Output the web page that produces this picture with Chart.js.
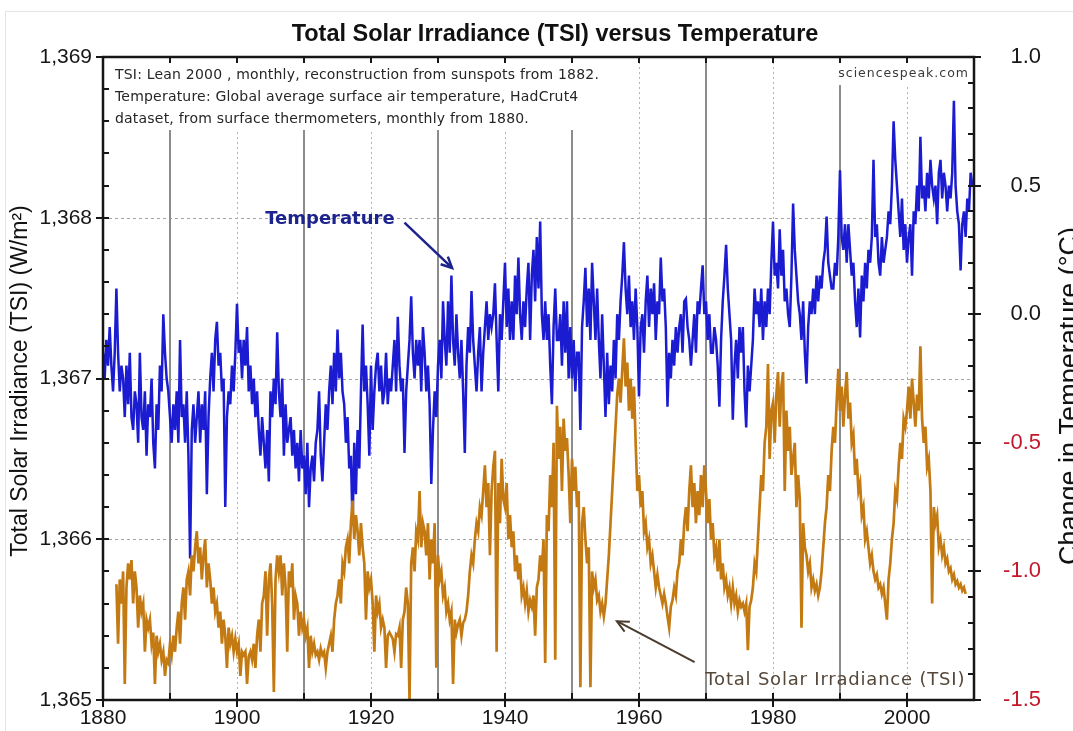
<!DOCTYPE html>
<html>
<head>
<meta charset="utf-8">
<script src="https://cdn.jsdelivr.net/npm/chart.js@4.4.1/dist/chart.umd.min.js"></script>
<style>
  html, body { margin: 0; background: #fff; }
  #wrap { width: 1073px; height: 731px; position: relative; }
</style>
</head>
<body>
<div id="wrap"><canvas id="tsi-chart"></canvas></div>
<script>
/* TSI vs temperature: two line series on twin y axes, gridlines / ticks / notes drawn by small plugins */

const X_TICKS = [1880, 1900, 1920, 1940, 1960, 1980, 2000];
const TSI_TICKS = [1365, 1366, 1367, 1368, 1369];
const TEMP_TICKS = [-1.5, -1.0, -0.5, 0.0, 0.5, 1.0];

const TEMP_START = 1880; // HadCrut4, 4 samples per year
const TSI_START = 1882;  // Lean 2000 reconstruction, 4 samples per year
const PER_YEAR = 4;

// °C anomaly, one row per year
const tempValues = [
  -0.15, -0.25, -0.10, -0.20,
  -0.05, -0.20, -0.30, -0.15,
  0.10, -0.15, -0.30, -0.20,
  -0.25, -0.40, -0.20, -0.35,
  -0.15, -0.40, -0.45, -0.30,
  -0.35, -0.50, -0.15, -0.40,
  -0.45, -0.30, -0.55, -0.35,
  -0.40, -0.25, -0.50, -0.60,
  -0.35, -0.45, -0.20, -0.30,
  0.00, -0.15, -0.25, -0.30,
  -0.40, -0.50, -0.35, -0.45, // 1890
  -0.30, -0.50, -0.10, -0.40,
  -0.35, -0.50, -0.30, -0.55,
  -0.95, -0.45, -0.35, -0.50,
  -0.40, -0.30, -0.50, -0.35,
  -0.45, -0.30, -0.70, -0.40,
  -0.25, -0.15, -0.30, -0.10,
  -0.03, -0.20, -0.15, -0.30,
  -0.25, -0.75, -0.40, -0.30,
  -0.35, -0.20, -0.30, -0.15,
  0.04, -0.15, -0.10, -0.25, // 1900
  -0.10, -0.20, -0.05, -0.30,
  -0.20, -0.35, -0.25, -0.40,
  -0.30, -0.45, -0.55, -0.40,
  -0.50, -0.60, -0.45, -0.65,
  -0.30, -0.40, -0.25, -0.35,
  -0.07, -0.30, -0.40, -0.25,
  -0.55, -0.35, -0.50, -0.45,
  -0.40, -0.55, -0.45, -0.60,
  -0.50, -0.65, -0.45, -0.60,
  -0.55, -0.70, -0.50, -0.75, // 1910
  -0.60, -0.55, -0.65, -0.50,
  -0.45, -0.30, -0.55, -0.65,
  -0.50, -0.35, -0.45, -0.30,
  -0.20, -0.35, -0.15, -0.30,
  -0.06, -0.25, -0.15, -0.30,
  -0.35, -0.50, -0.40, -0.60,
  -0.55, -0.82, -0.50, -0.70,
  -0.45, -0.60, -0.30, -0.04,
  -0.30, -0.20, -0.35, -0.55,
  -0.20, -0.45, -0.30, -0.20, // 1920
  -0.15, -0.30, -0.20, -0.35,
  -0.30, -0.15, -0.35, -0.25,
  -0.30, -0.20, -0.10, -0.30,
  -0.01, -0.20, -0.30, -0.25,
  -0.54, -0.30, -0.20, -0.10,
  0.07, -0.15, -0.25, -0.10,
  -0.20, -0.10, -0.30, -0.05,
  -0.15, -0.30, -0.20, -0.35,
  -0.66, -0.45, -0.30, -0.40,
  -0.20, -0.10, -0.25, 0.05, // 1930
  -0.10, -0.20, 0.05, -0.15,
  0.15, -0.10, -0.20, 0.00,
  -0.15, -0.25, -0.10, -0.30,
  -0.54, -0.20, -0.05, -0.15,
  0.09, -0.10, -0.20, -0.30,
  -0.15, -0.05, -0.30, -0.15,
  -0.05, 0.05, -0.10, 0.00,
  -0.05, 0.00, 0.12, -0.10,
  -0.30, 0.00, -0.10, 0.05,
  0.20, -0.05, 0.10, -0.10, // 1940
  0.05, -0.10, 0.15, 0.00,
  0.22, 0.00, -0.10, 0.05,
  -0.05, 0.10, 0.20, -0.10,
  0.15, 0.25, 0.05, 0.30,
  0.10, 0.36, 0.00, -0.10,
  0.05, -0.10, 0.00, -0.20,
  -0.35, -0.05, 0.10, -0.10,
  -0.10, 0.00, -0.20, 0.05,
  -0.15, 0.05, -0.25, -0.05,
  -0.25, -0.10, -0.30, -0.15, // 1950
  -0.15, -0.45, -0.05, 0.05,
  0.18, -0.05, 0.10, -0.10,
  0.20, 0.05, -0.10, 0.10,
  -0.10, -0.25, 0.00, -0.20,
  -0.40, -0.15, -0.35, -0.20,
  -0.30, -0.10, -0.25, 0.00,
  -0.10, 0.05, 0.15, 0.28,
  0.10, 0.00, 0.15, -0.05,
  0.05, -0.10, 0.10, -0.05,
  -0.32, -0.05, 0.00, -0.15, // 1960
  0.05, 0.15, -0.05, 0.10,
  0.00, 0.12, -0.10, 0.05,
  0.00, 0.22, 0.05, 0.10,
  -0.05, -0.36, -0.15, -0.25,
  -0.10, -0.20, -0.05, -0.15,
  -0.05, 0.00, -0.15, 0.05,
  0.06, -0.05, -0.10, -0.20,
  -0.10, 0.00, -0.15, 0.05,
  0.00, 0.10, 0.19, 0.00,
  0.05, -0.10, 0.00, -0.15, // 1970
  -0.15, -0.05, -0.10, -0.20,
  -0.36, -0.10, 0.05, 0.15,
  0.27, 0.10, 0.00, -0.10,
  -0.41, -0.20, -0.10, -0.25,
  -0.05, -0.15, -0.05, -0.30,
  -0.44, -0.20, -0.30, -0.20,
  -0.10, 0.10, 0.00, 0.05,
  -0.05, 0.10, -0.10, 0.05,
  -0.05, 0.10, 0.00, 0.20,
  0.36, 0.15, 0.20, 0.10, // 1980
  0.33, 0.15, 0.25, 0.05,
  0.10, 0.00, -0.05, 0.15,
  0.43, 0.25, 0.15, 0.05,
  0.00, -0.10, 0.05, -0.15,
  -0.27, -0.05, 0.05, 0.00,
  0.10, 0.00, 0.15, 0.05,
  0.15, 0.10, 0.20, 0.25,
  0.38, 0.20, 0.15, 0.10,
  0.10, 0.20, 0.15, 0.30,
  0.56, 0.30, 0.25, 0.35, // 1990
  0.20, 0.35, 0.25, 0.15,
  0.20, 0.05, -0.05, 0.10,
  -0.09, 0.15, 0.05, 0.20,
  0.10, 0.25, 0.20, 0.30,
  0.60, 0.30, 0.35, 0.20,
  0.15, 0.30, 0.20, 0.25,
  0.30, 0.40, 0.35, 0.50,
  0.75, 0.60, 0.50, 0.40,
  0.30, 0.45, 0.25, 0.35,
  0.20, 0.30, 0.35, 0.15, // 2000
  0.40, 0.35, 0.50, 0.40,
  0.69, 0.45, 0.50, 0.40,
  0.55, 0.45, 0.60, 0.50,
  0.45, 0.50, 0.35, 0.55,
  0.60, 0.45, 0.55, 0.50,
  0.40, 0.50, 0.45, 0.55,
  0.83, 0.50, 0.40, 0.35,
  0.17, 0.35, 0.40, 0.30,
  0.45, 0.40, 0.55, 0.50,
  0.50,
];

// W/m², one row per year from 1882
const tsiValues = [
  1365.72, 1365.35, 1365.75, 1365.60,
  1365.80, 1365.10, 1365.70, 1365.85,
  1365.75, 1365.87, 1365.60, 1365.80,
  1365.70, 1365.45, 1365.65, 1365.55,
  1365.60, 1365.30, 1365.50, 1365.45,
  1365.50, 1365.35, 1365.42, 1365.10,
  1365.40, 1365.30, 1365.35, 1365.25,
  1365.30, 1365.15, 1365.25, 1365.23,
  1365.35, 1365.28, 1365.40, 1365.30, // 1890
  1365.45, 1365.55, 1365.35, 1365.60,
  1365.70, 1365.50, 1365.75, 1365.80,
  1365.65, 1365.90, 1365.80, 1365.95,
  1366.05, 1365.85, 1365.95, 1365.75,
  1365.90, 1366.00, 1365.70, 1365.85,
  1365.75, 1365.60, 1365.70, 1365.55,
  1365.60, 1365.45, 1365.55, 1365.35,
  1365.50, 1365.40, 1365.20, 1365.45,
  1365.35, 1365.40, 1365.30, 1365.38,
  1365.30, 1365.35, 1365.15, 1365.30, // 1900
  1365.28, 1365.30, 1365.10, 1365.27,
  1365.30, 1365.25, 1365.35, 1365.20,
  1365.40, 1365.50, 1365.30, 1365.60,
  1365.65, 1365.80, 1365.40, 1365.75,
  1365.85, 1365.60, 1365.05, 1365.75,
  1365.90, 1365.80, 1365.90, 1365.65,
  1365.85, 1365.70, 1365.30, 1365.80,
  1365.70, 1365.85, 1365.50, 1365.65,
  1365.60, 1365.40, 1365.55, 1365.45,
  1365.50, 1365.40, 1365.45, 1365.20, // 1910
  1365.40, 1365.30, 1365.35, 1365.28,
  1365.30, 1365.25, 1365.32, 1365.28,
  1365.30, 1365.20, 1365.30, 1365.35,
  1365.40, 1365.30, 1365.50, 1365.60,
  1365.65, 1365.75, 1365.60, 1365.85,
  1365.80, 1365.95, 1366.00, 1365.85,
  1366.10, 1366.24, 1366.00, 1366.15,
  1366.05, 1365.90, 1366.10, 1365.95,
  1365.85, 1365.50, 1365.80, 1365.70,
  1365.75, 1365.60, 1365.30, 1365.65, // 1920
  1365.55, 1365.60, 1365.45, 1365.50,
  1365.45, 1365.20, 1365.40, 1365.42,
  1365.40, 1365.38, 1365.30, 1365.41,
  1365.40, 1365.45, 1365.20, 1365.50,
  1365.55, 1365.70, 1365.60, 1365.00,
  1365.85, 1365.95, 1365.80, 1366.05,
  1366.00, 1366.30, 1365.95, 1366.10,
  1366.05, 1365.90, 1366.10, 1365.75,
  1366.00, 1365.85, 1366.10, 1365.20,
  1365.90, 1365.75, 1365.80, 1365.65, // 1930
  1365.70, 1365.55, 1365.60, 1365.50,
  1365.55, 1365.10, 1365.50, 1365.42,
  1365.47, 1365.50, 1365.40, 1365.48,
  1365.50, 1365.55, 1365.65, 1365.80,
  1365.90, 1365.85, 1366.00, 1366.10,
  1366.05, 1366.20, 1366.15, 1366.30,
  1366.46, 1366.20, 1366.35, 1365.90,
  1366.30, 1366.45, 1366.55, 1365.30,
  1366.35, 1366.10, 1366.50, 1366.25,
  1366.20, 1366.35, 1366.00, 1366.15, // 1940
  1365.95, 1366.05, 1365.80, 1365.90,
  1365.75, 1365.85, 1365.65, 1365.70,
  1365.60, 1365.68, 1365.55, 1365.62,
  1365.58, 1365.65, 1365.40, 1365.70,
  1365.75, 1365.90, 1365.80, 1366.00,
  1365.23, 1366.15, 1366.05, 1366.40,
  1366.20, 1366.60, 1365.25, 1366.83,
  1366.50, 1366.70, 1366.30, 1366.75,
  1366.55, 1366.63, 1366.40, 1366.10,
  1366.50, 1366.30, 1366.45, 1366.20, // 1950
  1366.30, 1365.08, 1366.10, 1366.20,
  1366.00, 1365.85, 1365.95, 1365.08,
  1365.80, 1365.70, 1365.75, 1365.62,
  1365.65, 1365.55, 1365.60, 1365.52,
  1365.60, 1365.75, 1365.90, 1366.10,
  1366.30, 1366.50, 1366.70, 1366.90,
  1367.00, 1366.85, 1367.05, 1367.25,
  1366.95, 1367.10, 1366.80, 1367.00,
  1366.75, 1366.95, 1366.60, 1366.30,
  1366.40, 1366.20, 1366.30, 1366.05, // 1960
  1366.10, 1365.95, 1366.00, 1365.85,
  1365.90, 1365.80, 1365.70, 1365.78,
  1365.70, 1365.65, 1365.60, 1365.66,
  1365.60, 1365.52, 1365.45, 1365.58,
  1365.62, 1365.70, 1365.65, 1365.80,
  1365.85, 1366.00, 1365.90, 1366.10,
  1366.20, 1366.05, 1366.30, 1366.46,
  1366.20, 1366.35, 1366.10, 1366.30,
  1366.15, 1366.40, 1366.20, 1366.46,
  1366.30, 1366.10, 1366.25, 1366.00, // 1970
  1366.10, 1365.90, 1365.95, 1365.80,
  1366.00, 1365.75, 1365.85, 1365.70,
  1365.75, 1365.65, 1365.70, 1365.60,
  1365.70, 1365.60, 1365.65, 1365.55,
  1365.62, 1365.58, 1365.60, 1365.55,
  1365.60, 1365.31, 1365.58, 1365.62,
  1365.70, 1365.85, 1365.80, 1366.00,
  1366.20, 1366.40, 1366.30, 1366.60,
  1366.70, 1367.09, 1366.50, 1366.80,
  1366.85, 1366.60, 1366.90, 1367.04, // 1980
  1366.70, 1366.95, 1367.04, 1366.30,
  1366.80, 1366.55, 1366.70, 1366.40,
  1366.50, 1366.60, 1366.20, 1366.40,
  1366.25, 1365.45, 1366.10, 1365.95,
  1365.90, 1365.80, 1365.85, 1365.70,
  1365.75, 1365.68, 1365.72, 1365.65,
  1365.70, 1365.80, 1365.95, 1366.10,
  1366.20, 1366.40, 1366.30, 1366.55,
  1366.70, 1366.60, 1366.85, 1367.06,
  1366.80, 1366.95, 1366.70, 1366.90, // 1990
  1367.04, 1366.75, 1366.85, 1366.60,
  1366.65, 1366.40, 1366.50, 1366.30,
  1366.35, 1366.15, 1366.20, 1366.00,
  1366.05, 1365.95, 1365.85, 1365.90,
  1365.80, 1365.75, 1365.78, 1365.70,
  1365.72, 1365.66, 1365.70, 1365.60,
  1365.50, 1365.75, 1365.85, 1366.00,
  1366.10, 1366.30, 1366.25, 1366.45,
  1366.60, 1366.50, 1366.75, 1366.70,
  1366.80, 1366.95, 1366.75, 1367.00, // 2000
  1366.85, 1366.70, 1366.90, 1366.80,
  1367.20, 1366.75, 1366.60, 1366.70,
  1366.45, 1366.50, 1366.30, 1365.60,
  1366.20, 1366.10, 1366.15, 1365.95,
  1366.00, 1365.90, 1365.95, 1365.85,
  1365.88, 1365.80, 1365.82, 1365.75,
  1365.78, 1365.72, 1365.74, 1365.70,
  1365.72, 1365.68, 1365.70, 1365.66,
];

const NOTE_LINES = [
  "TSI: Lean 2000 , monthly, reconstruction from sunspots from 1882.",
  "Temperature: Global average surface air temperature, HadCrut4",
  "dataset, from surface thermometers, monthly from 1880.",
];

const FONT = "'Liberation Sans', Arial, sans-serif";
const NOTE_FONT = "'DejaVu Sans', Verdana, sans-serif";
const INK = "#161616";
const NEG_RED = "#c4182c";
const TEMP_BLUE = "#1b1bd2";
const TSI_GOLD = "#c47a12";

// annotation anchors in data units
const TEMP_LABEL = { x: 1904.2, t: 0.37 };
const TEMP_ARROW = { x1: 1925.0, t1: 0.356, x2: 1932.1, t2: 0.18 };
const TSI_LABEL = { x: 1969.9, v: 1365.125 };
const TSI_ARROW = { x1: 1968.3, v1: 1365.235, x2: 1956.7, v2: 1365.49 };

const tempPoints = tempValues.map((v, i) => ({ x: TEMP_START + i / PER_YEAR, y: v }));
const tsiPoints = tsiValues.map((v, i) => ({ x: TSI_START + i / PER_YEAR, y: v }));

function seg(ctx, x1, y1, x2, y2) {
  ctx.beginPath();
  ctx.moveTo(x1, y1);
  ctx.lineTo(x2, y2);
  ctx.stroke();
}

function arrow(ctx, x1, y1, x2, y2, head) {
  seg(ctx, x1, y1, x2, y2);
  const ang = Math.atan2(y2 - y1, x2 - x1);
  ctx.beginPath();
  ctx.moveTo(x2 - head * Math.cos(ang - 0.45), y2 - head * Math.sin(ang - 0.45));
  ctx.lineTo(x2, y2);
  ctx.lineTo(x2 - head * Math.cos(ang + 0.45), y2 - head * Math.sin(ang + 0.45));
  ctx.stroke();
}

// keep the plot box fixed: no extra room for overhanging end labels
function fixMargins(s) {
  s.paddingTop = 0;
  s.paddingBottom = 0;
  s.paddingLeft = 0;
  s.paddingRight = 0;
}

// gridlines under the data, white patches behind the notes
const gridPlugin = {
  id: "tsiGrid",
  beforeDatasetsDraw(chart) {
    const { ctx, chartArea: a, scales } = chart;
    ctx.save();
    ctx.strokeStyle = "#a4a4a4";
    ctx.lineWidth = 1;
    ctx.setLineDash([3, 3]);
    TSI_TICKS.slice(1, -1).forEach((v) => {
      const py = Math.round(scales.yTsi.getPixelForValue(v)) + 0.5;
      seg(ctx, a.left, py, a.right, py);
    });
    for (let yr = 1890; yr < 2010; yr += 10) {
      const px = Math.round(scales.x.getPixelForValue(yr));
      if (yr % 20 === 0) {
        ctx.strokeStyle = "#b4b4b4";
        ctx.lineWidth = 1;
        ctx.setLineDash([2, 3]);
        seg(ctx, px + 0.5, a.top, px + 0.5, a.bottom);
      } else {
        ctx.strokeStyle = "#8c8c8c";
        ctx.lineWidth = 2;
        ctx.setLineDash([]);
        seg(ctx, px, a.top, px, a.bottom);
      }
    }
    ctx.fillStyle = "#fff";
    ctx.fillRect(a.left + 2, a.top + 2, 500, 71);
    ctx.fillRect(a.right - 144, a.top + 2, 142, 26);
    ctx.restore();
  },
};

// frame, inward ticks, notes, annotations, titles
const decorPlugin = {
  id: "tsiDecor",
  afterDatasetsDraw(chart) {
    const { ctx, chartArea: a, scales } = chart;
    const x = scales.x, yl = scales.yTsi, yr = scales.yTemp;
    ctx.save();

    ctx.lineWidth = 1;
    ctx.strokeStyle = "#e4e4e4";
    ctx.strokeRect(5.5, 11.5, 1100, 800);

    ctx.strokeStyle = INK;
    ctx.lineWidth = 2.5;
    ctx.strokeRect(a.left, a.top, a.right - a.left, a.bottom - a.top);

    ctx.lineWidth = 2;
    for (let i = 0; i <= 20; i++) {
      const py = Math.round(yl.getPixelForValue(1365 + i * 0.2));
      if (i % 5 === 0) seg(ctx, a.left - 7, py, a.left + 6, py);
      else seg(ctx, a.left, py, a.left + 6, py);
    }
    for (let i = 0; i <= 25; i++) {
      const py = Math.round(yr.getPixelForValue(-1.5 + i * 0.1));
      if (i % 5 === 0) seg(ctx, a.right - 6, py, a.right + 7, py);
      else seg(ctx, a.right - 6, py, a.right, py);
    }
    for (let yrv = 1880; yrv <= 2010; yrv += 10) {
      const px = Math.round(x.getPixelForValue(yrv));
      if (yrv % 20 === 0) seg(ctx, px, a.bottom - 7, px, a.bottom + 7);
      else seg(ctx, px, a.bottom - 7, px, a.bottom);
      seg(ctx, px, a.top, px, a.top + 6);
    }

    // notes
    ctx.fillStyle = "#262626";
    ctx.font = `14px ${NOTE_FONT}`;
    ctx.textAlign = "left";
    ctx.textBaseline = "middle";
    ctx.letterSpacing = "0.2px";
    NOTE_LINES.forEach((s, i) => ctx.fillText(s, a.left + 12, a.top + 18 + i * 22));
    ctx.fillStyle = "#3a3a3a";
    ctx.font = `12.5px ${NOTE_FONT}`;
    ctx.textAlign = "right";
    ctx.letterSpacing = "1px";
    ctx.fillText("sciencespeak.com", a.right - 5, a.top + 17);
    ctx.letterSpacing = "0px";

    // Temperature label + arrow
    ctx.fillStyle = "#1d238c";
    ctx.font = `bold 18px ${NOTE_FONT}`;
    ctx.textAlign = "left";
    ctx.fillText("Temperature", x.getPixelForValue(TEMP_LABEL.x), yr.getPixelForValue(TEMP_LABEL.t));
    ctx.strokeStyle = "#1d238c";
    ctx.lineWidth = 2.5;
    arrow(ctx, x.getPixelForValue(TEMP_ARROW.x1), yr.getPixelForValue(TEMP_ARROW.t1),
      x.getPixelForValue(TEMP_ARROW.x2), yr.getPixelForValue(TEMP_ARROW.t2), 12);

    // TSI label + arrow
    ctx.fillStyle = "#55483a";
    ctx.font = `18px ${NOTE_FONT}`;
    ctx.letterSpacing = "0.8px";
    ctx.fillText("Total Solar Irradiance (TSI)", x.getPixelForValue(TSI_LABEL.x), yl.getPixelForValue(TSI_LABEL.v));
    ctx.letterSpacing = "0px";
    ctx.strokeStyle = "#4a3c2e";
    ctx.lineWidth = 2;
    arrow(ctx, x.getPixelForValue(TSI_ARROW.x1), yl.getPixelForValue(TSI_ARROW.v1),
      x.getPixelForValue(TSI_ARROW.x2), yl.getPixelForValue(TSI_ARROW.v2), 13);

    // title
    ctx.fillStyle = "#111";
    ctx.font = `bold 23.5px ${FONT}`;
    ctx.textAlign = "center";
    ctx.fillText("Total Solar Irradiance (TSI) versus Temperature", 555, 35);

    // axis titles, both reading bottom to top
    ctx.font = `23px ${FONT}`;
    ctx.translate(21, 381);
    ctx.rotate(-Math.PI / 2);
    ctx.fillText("Total Solar Irradiance (TSI) (W/m²)", 0, 0);
    ctx.setTransform(1, 0, 0, 1, 0, 0);
    ctx.font = `27px ${FONT}`;
    ctx.translate(1071, 396);
    ctx.rotate(-Math.PI / 2);
    ctx.fillText("Change in Temperature (°C)", 0, 0);
    ctx.restore();
  },
};

new Chart(document.getElementById("tsi-chart"), {
  type: "line",
  data: {
    datasets: [
      { label: "TSI", data: tsiPoints, yAxisID: "yTsi", borderColor: TSI_GOLD, borderWidth: 2.7, pointRadius: 0, tension: 0 },
      { label: "Temperature", data: tempPoints, yAxisID: "yTemp", borderColor: TEMP_BLUE, borderWidth: 2.5, pointRadius: 0, tension: 0 },
    ],
  },
  options: {
    responsive: true,
    maintainAspectRatio: false,
    animation: false,
    layout: { padding: { top: 57, left: 0, right: 32, bottom: 0 } },
    plugins: { legend: { display: false }, tooltip: { enabled: false } },
    scales: {
      x: {
        type: "linear",
        min: 1880,
        max: 2010,
        grid: { display: false, drawTicks: false },
        border: { display: false },
        afterBuildTicks: (s) => { s.ticks = X_TICKS.map((v) => ({ value: v })); },
        afterFit: (s) => { s.height = 31; fixMargins(s); },
        ticks: { color: INK, padding: 6, maxRotation: 0, autoSkip: false, font: { family: FONT, size: 21 }, callback: (v) => String(v) },
      },
      yTsi: {
        type: "linear",
        position: "left",
        min: 1365,
        max: 1369,
        grid: { display: false, drawTicks: false },
        border: { display: false },
        afterBuildTicks: (s) => { s.ticks = TSI_TICKS.map((v) => ({ value: v })); },
        afterFit: (s) => { s.width = 103; fixMargins(s); },
        ticks: { color: INK, padding: 11, font: { family: FONT, size: 21 }, callback: (v) => v.toLocaleString("en-US") },
      },
      yTemp: {
        type: "linear",
        position: "right",
        min: -1.5,
        max: 1.0,
        grid: { display: false, drawTicks: false },
        border: { display: false },
        afterBuildTicks: (s) => { s.ticks = TEMP_TICKS.map((v) => ({ value: v })); },
        afterFit: (s) => { s.width = 67; fixMargins(s); },
        ticks: {
          padding: 20,
          crossAlign: "far",
          font: { family: FONT, size: 22 },
          color: (c) => (c.tick && c.tick.value < 0 ? NEG_RED : INK),
          callback: (v) => Number(v).toFixed(1),
        },
      },
    },
  },
  plugins: [gridPlugin, decorPlugin],
});
</script>
</body>
</html>
